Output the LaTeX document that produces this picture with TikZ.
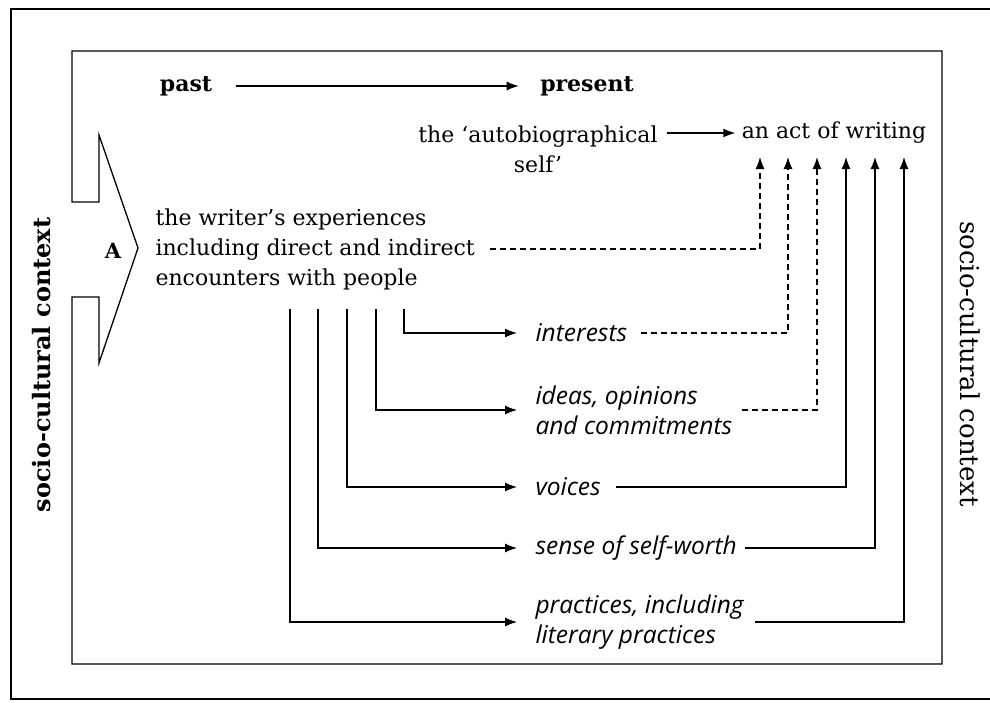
\documentclass[tikz,border=0pt]{standalone}
\usepackage{fontspec}
\setmainfont{DejaVu Serif}
\newfontfamily\lblfont{Open Sans}
\usepackage{tikz}
\usetikzlibrary{arrows.meta}
\tikzset{
  conn/.style={line width=1.2pt,-{Latex[length=12pt,width=9pt]}},
  dconn/.style={conn,dash pattern=on 6pt off 4pt},
  branch/.style={conn,shorten >=15pt},
  txt/.style={font=\fontsize{22}{30}\selectfont},
  hdr/.style={font=\fontsize{22}{30}\selectfont\bfseries},
  lbl/.style={font=\fontsize{24.5}{30}\selectfont\lblfont\itshape,align=left,anchor=west},
  side/.style={font=\fontsize{26}{30}\selectfont}
}

\begin{document}
\begin{tikzpicture}[x=1pt,y=-1pt]
  \useasboundingbox (0,0) rectangle (990,702);
  % frames
  \draw[line width=1.2pt] (990,9) -- (11,9) -- (11,699) -- (990,699);
  \draw[line width=1.3pt] (72,202) -- (72,51) -- (942,51) -- (942,664) -- (72,664) -- (72,297)
       -- (99,297) -- (99,363) -- (138,248) -- (99,135) -- (99,202) -- cycle;
  \node[hdr,font=\fontsize{21}{24}\selectfont\bfseries] (A) at (113,251) {A};
  \node[side,font=\fontsize{24}{30}\selectfont\bfseries,rotate=90] (ctxleft) at (42,365) {socio-cultural context};
  \node[side,rotate=-90] (ctxright) at (970,364) {socio-cultural context};

  % time line
  \node[hdr] (past) at (186,86) {past};
  \node[hdr] (present) at (587,86) {present};
  \draw[conn,shorten <=20pt,shorten >=18pt] (past) -- (present);

  \node[txt,align=center] (autoself) at (538,149) {the `autobiographical\\self'};
  \node[txt] (act) at (834,133) {an act of writing};
  \draw[conn,shorten <=6pt,shorten >=3pt] (autoself.east |- act) -- (act);

  \node[txt,align=left,anchor=west] (exp) at (152,249) {the writer's experiences\\including direct and indirect\\encounters with people};

  % outcomes
  \node[lbl] (interests) at (532,333) {interests};
  \node[lbl] (ideas) at (532,410) {ideas, opinions\\and commitments};
  \node[lbl] (voices) at (532,487) {voices};
  \node[lbl] (worth) at (532,548) {sense of self-worth};
  \node[lbl] (practices) at (532,622) {practices, including\\literary practices};

  % arrow tips under the act of writing
  \coordinate (t1) at (760,157);
  \coordinate (t2) at (788,157);
  \coordinate (t3) at (817,157);
  \coordinate (t4) at (846,157);
  \coordinate (t5) at (875,157);
  \coordinate (t6) at (904,157);

  % branch starts below the experiences
  \coordinate (b1) at (404,309);
  \coordinate (b2) at (376,309);
  \coordinate (b3) at (347,309);
  \coordinate (b4) at (318,309);
  \coordinate (b5) at (290,309);

  \draw[branch] (b1) |- (interests.west);
  \draw[branch] (b2) |- (ideas.west);
  \draw[branch] (b3) |- (voices.west);
  \draw[branch] (b4) |- (worth.west);
  \draw[branch] (b5) |- (practices.west);

  \draw[dconn,shorten <=12pt] (exp.east) -| (t1);
  \draw[dconn,shorten <=10pt] (interests.east) -| (t2);
  \draw[dconn,shorten <=6pt] (ideas.east) -| (t3);
  \draw[conn,shorten <=12pt] (voices.east) -| (t4);
  \draw[conn,shorten <=5pt] (worth.east) -| (t5);
  \draw[conn,shorten <=8pt] (practices.east) -| (t6);
\end{tikzpicture}
\end{document}
